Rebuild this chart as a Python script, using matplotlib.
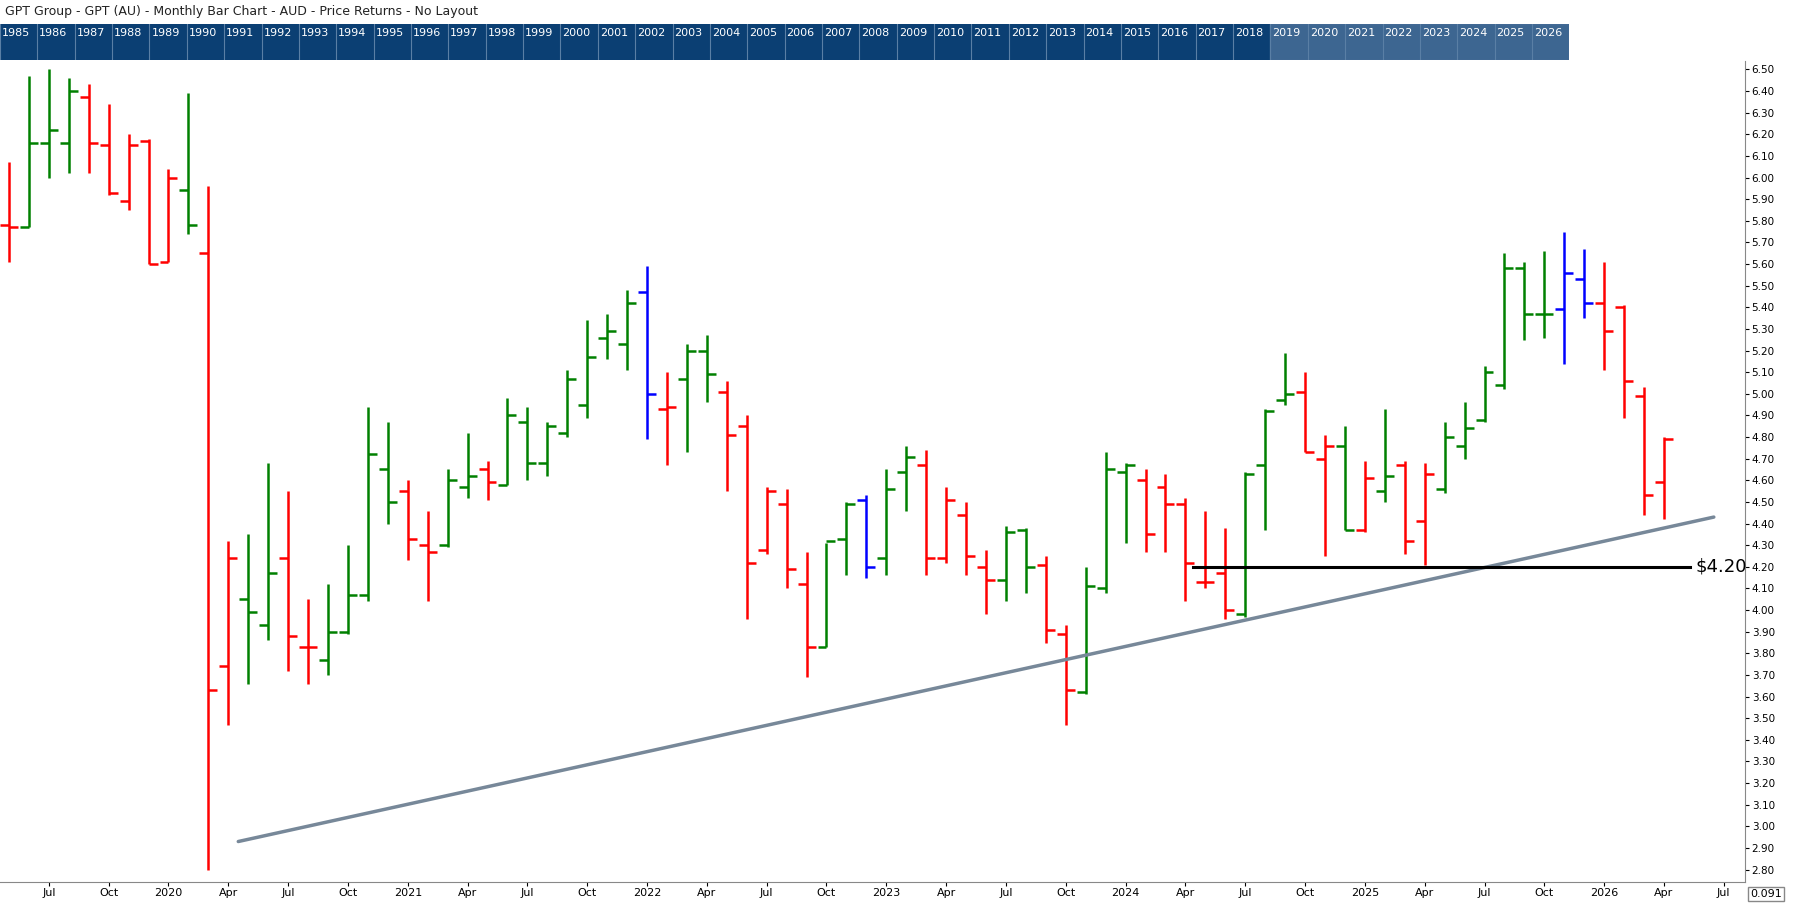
import matplotlib.pyplot as plt
import numpy as np

# monthly bars, May 2019 .. Apr 2026
start_year, start_month = 2019, 5
opens = [5.78, 5.77, 6.16, 6.16, 6.37, 6.15, 5.89, 6.17, 5.61, 5.94,
         5.65, 3.74, 4.05, 3.93, 4.24, 3.83, 3.77, 3.90, 4.07, 4.65,
         4.55, 4.30, 4.30, 4.57, 4.65, 4.58, 4.87, 4.68, 4.82, 4.95,
         5.26, 5.23, 5.47, 4.93, 5.07, 5.20, 5.01, 4.85, 4.28, 4.49,
         4.12, 3.83, 4.33, 4.51, 4.24, 4.64, 4.67, 4.24, 4.44, 4.20,
         4.14, 4.37, 4.21, 3.89, 3.62, 4.10, 4.64, 4.60, 4.57, 4.49,
         4.13, 4.17, 3.98, 4.67, 4.97, 5.01, 4.70, 4.76, 4.37, 4.55,
         4.67, 4.41, 4.56, 4.76, 4.88, 5.04, 5.58, 5.37, 5.39, 5.53,
         5.42, 5.40, 4.99, 4.59]
highs = [6.07, 6.47, 6.50, 6.46, 6.43, 6.34, 6.20, 6.18, 6.04, 6.39,
         5.96, 4.32, 4.35, 4.68, 4.55, 4.05, 4.12, 4.30, 4.94, 4.87,
         4.60, 4.46, 4.65, 4.82, 4.69, 4.98, 4.94, 4.87, 5.11, 5.34,
         5.37, 5.48, 5.59, 5.10, 5.23, 5.27, 5.06, 4.90, 4.57, 4.56,
         4.27, 4.31, 4.50, 4.53, 4.65, 4.76, 4.74, 4.57, 4.50, 4.28,
         4.39, 4.38, 4.25, 3.93, 4.20, 4.73, 4.68, 4.65, 4.63, 4.52,
         4.46, 4.38, 4.64, 4.93, 5.19, 5.10, 4.81, 4.85, 4.69, 4.93,
         4.69, 4.68, 4.87, 4.96, 5.13, 5.65, 5.61, 5.66, 5.75, 5.67,
         5.61, 5.41, 5.03, 4.80]
lows = [5.61, 5.77, 6.00, 6.02, 6.02, 5.92, 5.85, 5.60, 5.61, 5.74,
        2.80, 3.47, 3.66, 3.86, 3.72, 3.66, 3.70, 3.89, 4.04, 4.40,
        4.23, 4.04, 4.29, 4.52, 4.51, 4.58, 4.60, 4.62, 4.80, 4.89,
        5.16, 5.11, 4.79, 4.67, 4.73, 4.96, 4.55, 3.96, 4.26, 4.10,
        3.69, 3.83, 4.16, 4.15, 4.16, 4.46, 4.16, 4.22, 4.16, 3.98,
        4.04, 4.08, 3.85, 3.47, 3.61, 4.08, 4.31, 4.27, 4.27, 4.04,
        4.10, 3.96, 3.97, 4.37, 4.95, 4.73, 4.25, 4.37, 4.36, 4.50,
        4.26, 4.21, 4.54, 4.70, 4.87, 5.02, 5.25, 5.26, 5.14, 5.35,
        5.11, 4.89, 4.44, 4.42]
closes = [5.77, 6.16, 6.22, 6.40, 6.16, 5.93, 6.15, 5.60, 6.00, 5.78,
          3.63, 4.24, 3.99, 4.17, 3.88, 3.83, 3.90, 4.07, 4.72, 4.50,
          4.33, 4.27, 4.60, 4.62, 4.59, 4.90, 4.68, 4.85, 5.07, 5.17,
          5.29, 5.42, 5.00, 4.94, 5.20, 5.09, 4.81, 4.22, 4.55, 4.19,
          3.83, 4.32, 4.49, 4.20, 4.56, 4.71, 4.24, 4.51, 4.25, 4.14,
          4.36, 4.20, 3.91, 3.63, 4.11, 4.65, 4.67, 4.35, 4.49, 4.22,
          4.13, 4.00, 4.63, 4.92, 5.00, 4.73, 4.76, 4.37, 4.61, 4.62,
          4.32, 4.63, 4.80, 4.84, 5.10, 5.58, 5.37, 5.37, 5.56, 5.42,
          5.29, 5.06, 4.53, 4.79]
bar_colors = ("rgggrrrrrg" "rrggrrgggg" "rrggrggggg" "ggbrggrrrr"
              "rggbggrrrr" "ggrrgggrrr" "rrgggrrgrg" "rrggggggbb"
              "rrrr")

trend_x = [11.5, 85.5]
trend_y = [2.93, 4.43]
level = 4.20
level_x = [59.4, 84.3]

header_years = list(range(1985, 2027))
title = "GPT Group - GPT (AU) - Monthly Bar Chart - AUD - Price Returns - No Layout"

cmap = {"r": "#ff0000", "g": "#008000", "b": "#0000ff"}
n = len(opens)
x = np.arange(n)

fig = plt.figure(figsize=(18.08, 9.06), dpi=100)
fig.text(0.003, 0.987, title, fontsize=9, va="center", ha="left", color="#222222")

# navy year strip
hdr = fig.add_axes([0, 0.934, 0.868, 0.039])
hdr.set_facecolor("#0b3f73")
hdr.set_xlim(0, len(header_years))
hdr.set_ylim(0, 1)
hdr.set_xticks([])
hdr.set_yticks([])
for s in hdr.spines.values():
    s.set_visible(False)
for k, yr in enumerate(header_years):
    hdr.text(k + 0.05, 0.75, str(yr), color="white", fontsize=8, va="center", ha="left")
    hdr.axvline(k, color="#5a7fa5", lw=0.8)
hdr.axvspan(34, 42, color="#4a7099", alpha=0.8)

ax = fig.add_axes([0, 0.027, 0.965, 0.906])
hw = 0.45
for i in range(n):
    c = cmap[bar_colors[i]]
    ax.vlines(x[i], lows[i], highs[i], color=c, lw=1.8)
    ax.hlines(opens[i], x[i] - hw, x[i], color=c, lw=1.8)
    ax.hlines(closes[i], x[i], x[i] + hw, color=c, lw=1.8)

ax.plot(trend_x, trend_y, color="#778899", lw=2.5, solid_capstyle="round")
ax.plot(level_x, [level, level], color="black", lw=2.2)
ax.text(level_x[1] + 0.3, level, "$4.20", fontsize=13, va="center", ha="left")

ax.set_xlim(-0.45, 87.05)
ax.set_ylim(2.745, 6.54)
ax.yaxis.tick_right()
yt = np.round(np.arange(2.8, 6.51, 0.1), 2)
ax.set_yticks(yt)
ax.set_yticklabels([f"{v:.2f}" for v in yt], fontsize=7.5)
ax.tick_params(axis="y", length=3, pad=2)

names = {1: None, 4: "Apr", 7: "Jul", 10: "Oct"}
xt, xl = [], []
for i in range(0, 88):
    m = (start_month - 1 + i) % 12 + 1
    yr = start_year + (start_month - 1 + i) // 12
    if m in names:
        xt.append(i)
        xl.append(str(yr) if m == 1 else names[m])
ax.set_xticks(xt)
ax.set_xticklabels(xl, fontsize=8)
ax.tick_params(axis="x", length=3, pad=2)
for s in ["top", "left"]:
    ax.spines[s].set_visible(False)
ax.spines["bottom"].set_color("#888888")
ax.spines["right"].set_color("#888888")

fig.text(0.968, 0.013, "0.091", fontsize=8, ha="left", va="center",
         bbox=dict(facecolor="white", edgecolor="#888888", pad=1.5))

fig.savefig("out.png", dpi=100)
